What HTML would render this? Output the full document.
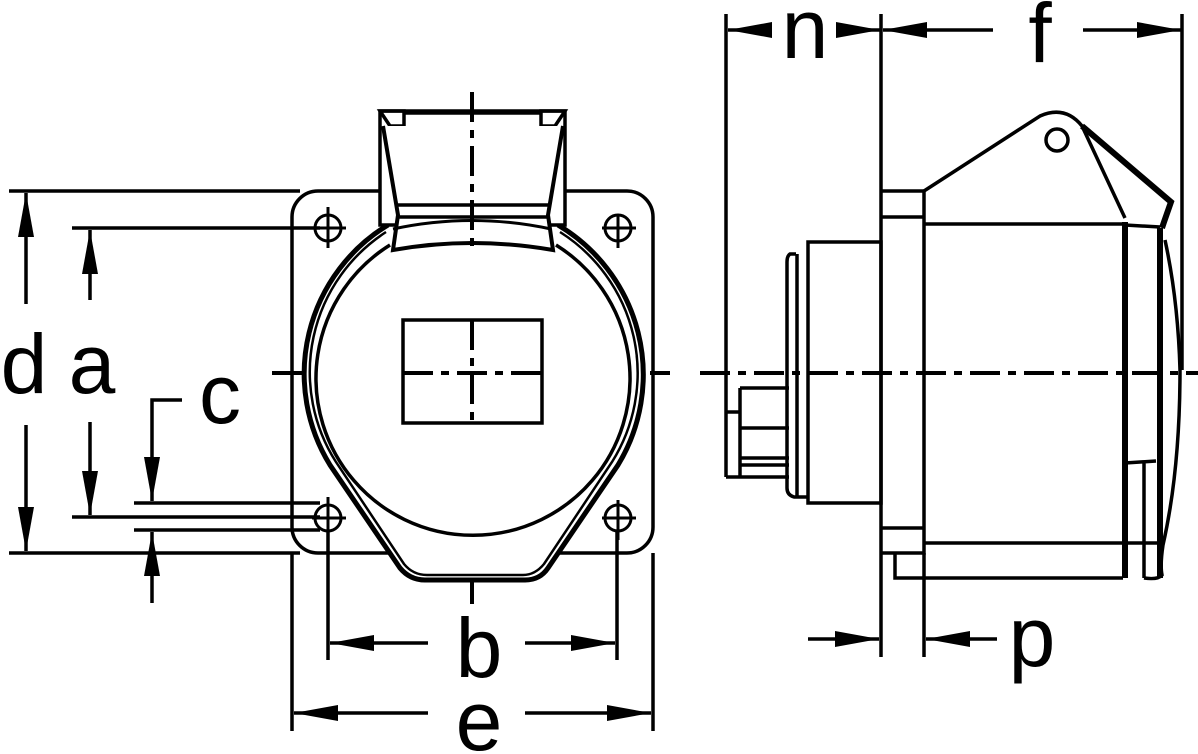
<!DOCTYPE html>
<html><head><meta charset="utf-8"><style>
html,body{margin:0;padding:0;background:#fff;}
svg{display:block}
text{font-family:"Liberation Sans",Arial,sans-serif;fill:#000}
</style></head><body>
<svg width="1198" height="754" viewBox="0 0 1198 754" xmlns="http://www.w3.org/2000/svg">
<defs>
<marker id="ar" viewBox="0 0 44 16" refX="44" refY="8" markerWidth="44" markerHeight="16" markerUnits="userSpaceOnUse" orient="auto">
<path d="M0,0 L44,8 L0,16 Z" fill="#000"/></marker>
</defs>
<g stroke="#000" fill="none" stroke-width="3.5">
<!-- ===== FRONT VIEW ===== -->
<line x1="472" y1="92" x2="472" y2="604" stroke-dasharray="30,8,8,8" stroke-width="4"/>
<line x1="272" y1="373" x2="670" y2="373" stroke-dasharray="30,8,8,8" stroke-width="4"/>
<rect x="292" y="191" width="361" height="362" rx="26"/>
<g stroke-width="3">
<circle cx="328" cy="228" r="13"/><line x1="312" y1="228" x2="346" y2="228"/><line x1="328" y1="207" x2="328" y2="248"/>
<circle cx="618" cy="228" r="13"/><line x1="602" y1="228" x2="636" y2="228"/><line x1="618" y1="215" x2="618" y2="248"/>
<circle cx="328" cy="518" r="13"/><line x1="312" y1="518" x2="346" y2="518"/><line x1="328" y1="497" x2="328" y2="540"/>
<circle cx="618" cy="518" r="13"/><line x1="602" y1="518" x2="636" y2="518"/><line x1="618" y1="500" x2="618" y2="540"/>
</g>
<path d="M388,225 A174,174 0 0 0 330,465 L400,568 Q410,580 425,580 L525,580 Q540,580 548,568 L618,465 A174,174 0 0 0 558,225" fill="#fff" stroke-width="5"/>
<path d="M386,232 A167,167 0 0 0 336,462 L404,564 Q413,575 427,575 L523,575 Q535,575 544,564 L612,462 A167,167 0 0 0 560,232" stroke-width="2.5"/>
<path d="M390,245 A157,157 0 1 0 556,245" stroke-width="3.5"/>
<rect x="380" y="111" width="185" height="114" fill="#fff"/>
<path d="M380,111 L404,111 L404,126 L390,126 Z M565,111 L541,111 L541,126 L555,126 Z"/>
<line x1="404" y1="113" x2="541" y2="113"/>
<path d="M383,126 L398,215 L393,250 Q472,236 553,250 L548,215 L563,126" fill="#fff" stroke-width="4"/>
<line x1="398" y1="205" x2="548" y2="205"/>
<line x1="396" y1="217" x2="550" y2="217"/>
<path d="M393,229 Q472,212 551,229" stroke-width="3"/>
<line x1="472" y1="92" x2="472" y2="250" stroke-dasharray="30,8,8,8" stroke-width="4"/>
<rect x="403" y="320" width="139" height="103"/>
<line x1="403" y1="373" x2="542" y2="373" stroke-dasharray="30,8,8,8" stroke-width="4"/>
<line x1="472" y1="320" x2="472" y2="423" stroke-dasharray="30,8,8,8" stroke-width="4"/>

<!-- ===== SIDE VIEW ===== -->
<line x1="700" y1="373" x2="1198" y2="373" stroke-dasharray="30,8,8,8" stroke-width="4"/>
<path d="M726,477 L789,477 M726,412 L740,412 M740,388 L789,388 M740,388 L740,477 M740,428 L789,428 M740,458 L789,458 M740,465 L789,465"/>
<path d="M796,254 L790,254 Q787,256 787,262 L787,488 Q787,495 794,497 L808,497"/>
<line x1="797" y1="254" x2="797" y2="497"/>
<rect x="808" y="242" width="73" height="261"/>
<path d="M881,191 L924,191 L924,553 L881,553 M881,217 L924,217 M881,528 L924,528"/>
<path d="M895,553 L895,578 L1123,578"/>
<path d="M924,224 L1123,224 M924,543 L1123,543"/>
<path d="M924,191 L1040,116 Q1065,105 1082,126 L1125,218" stroke-width="3.5"/>
<path d="M1082,126 L1171,202 L1164,222 L1162,228" stroke-width="6"/>
<circle cx="1057" cy="140" r="11"/>
<line x1="1125" y1="222" x2="1125" y2="578" stroke-width="6"/>
<line x1="1160" y1="228" x2="1160" y2="578" stroke-width="6"/>
<path d="M1125,225 L1160,227 M1125,463 L1156,461 M1125,543 L1160,543 M1144,463 L1144,578"/>
<path d="M1165,240 Q1178,300 1180,370 Q1180,470 1163,545 Q1160,565 1162,575 Q1158,580 1144,578"/>
<line x1="726" y1="14" x2="726" y2="477"/>
<line x1="881" y1="14" x2="881" y2="657"/>
<line x1="924" y1="553" x2="924" y2="657"/>
<line x1="1182" y1="14" x2="1182" y2="370"/>

<!-- ===== DIMENSIONS ===== -->
<line x1="772" y1="30" x2="728" y2="30" marker-end="url(#ar)"/>
<line x1="836" y1="30" x2="880" y2="30" marker-end="url(#ar)"/>
<line x1="993" y1="30" x2="883" y2="30" marker-end="url(#ar)"/>
<line x1="1083" y1="30" x2="1181" y2="30" marker-end="url(#ar)"/>
<line x1="808" y1="639" x2="879" y2="639" marker-end="url(#ar)"/>
<line x1="997" y1="639" x2="926" y2="639" marker-end="url(#ar)"/>
<line x1="9" y1="191" x2="300" y2="191"/>
<line x1="9" y1="553" x2="300" y2="553"/>
<line x1="26" y1="304" x2="26" y2="193" marker-end="url(#ar)"/>
<line x1="26" y1="425" x2="26" y2="551" marker-end="url(#ar)"/>
<line x1="72" y1="228" x2="320" y2="228"/>
<line x1="72" y1="517" x2="320" y2="517"/>
<line x1="90" y1="300" x2="90" y2="230" marker-end="url(#ar)"/>
<line x1="90" y1="422" x2="90" y2="515" marker-end="url(#ar)"/>
<line x1="134" y1="503" x2="320" y2="503"/>
<line x1="134" y1="530" x2="320" y2="530"/>
<path d="M182,400 L152,400 L152,501" marker-end="url(#ar)"/>
<line x1="152" y1="603" x2="152" y2="532" marker-end="url(#ar)"/>
<line x1="328" y1="530" x2="328" y2="660"/>
<line x1="617" y1="530" x2="617" y2="660"/>
<line x1="428" y1="643" x2="330" y2="643" marker-end="url(#ar)"/>
<line x1="525" y1="643" x2="615" y2="643" marker-end="url(#ar)"/>
<line x1="292" y1="553" x2="292" y2="731"/>
<line x1="653" y1="553" x2="653" y2="731"/>
<line x1="428" y1="713" x2="294" y2="713" marker-end="url(#ar)"/>
<line x1="525" y1="713" x2="651" y2="713" marker-end="url(#ar)"/>
</g>
<g font-size="84" text-anchor="middle">
<text x="24" y="393">d</text>
<text x="92" y="393">a</text>
<text x="220" y="423">c</text>
<text x="479" y="677">b</text>
<text x="479" y="750">e</text>
<text x="805" y="58">n</text>
<text x="1040" y="62">f</text>
<text x="1032" y="666">p</text>
</g>
</svg>
</body></html>
